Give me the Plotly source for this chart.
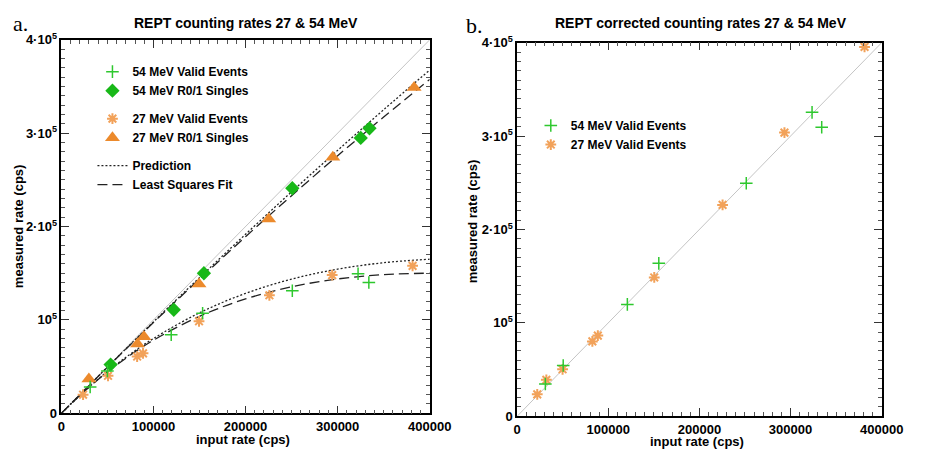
import plotly.graph_objects as go

# ---- data ----
# panel a: measured rates
val54_x = [31300, 50000, 119300, 153400, 250800, 322200, 333900]
val54_y = [28200, 45300, 84100, 107100, 131200, 149400, 140100]

sing54_x = [53500, 122100, 154800, 250800, 325100, 334600]
sing54_y = [52200, 110900, 150000, 241000, 294900, 305200]

val27_x = [23600, 50700, 82300, 88700, 149500, 225900, 294100, 381400]
val27_y = [19900, 40200, 60800, 64200, 98500, 126400, 148000, 157900]

sing27_x = [29900, 82700, 89700, 149500, 225200, 294800, 383100]
sing27_y = [36700, 74200, 82100, 138400, 208100, 274300, 348800]

# model curves (read at fixed input rates)
curve_hi_x = [0, 50000, 100000, 150000, 200000, 250000, 300000, 350000, 400000]
pred_hi_y = [0, 49500, 97900, 145300, 191700, 237200, 281600, 325100, 367600]
lsq_hi_y = [0, 49300, 97200, 143800, 189100, 233100, 275800, 317300, 357600]

curve_lo_x = [0, 25000, 50000, 75000, 100000, 150000, 200000, 250000, 300000, 350000, 400000]
pred_lo_y = [0, 23600, 44800, 63500, 80100, 107600, 128400, 143700, 154400, 161300, 165000]
lsq_lo_y = [0, 23500, 44200, 62400, 78300, 103900, 122500, 135500, 143900, 148500, 150100]

diag = [0, 400000]

# panel b: corrected rates
corr54_x = [30900, 50500, 120900, 155400, 251400, 323600, 334200]
corr54_y = [34400, 54300, 119700, 163700, 249400, 325400, 309500]

corr27_x = [22000, 32000, 49800, 82500, 88500, 150400, 225400, 293300, 381200]
corr27_y = [23400, 38900, 50200, 80100, 86300, 148600, 226300, 303700, 395500]

tickvals = [0, 100000, 200000, 300000, 400000]
x_ticktext = ["0", "100000", "200000", "300000", "400000"]
y_ticktext = ["0", "10<sup>5</sup>", "2·10<sup>5</sup>", "3·10<sup>5</sup>", "4·10<sup>5</sup>"]

GREEN = "#2ec82e"
GREEN_D = "#18b818"
ORANGE = "#ec8a2c"
ORANGE_L = "#f2a25a"
W, H = 927, 455

fig = go.Figure()

# reference diagonal and curves, panel a
fig.add_trace(go.Scatter(x=diag, y=diag, mode="lines", line=dict(color="#c4c4c4", width=1),
                         showlegend=False, hoverinfo="skip", xaxis="x", yaxis="y"))
for xs, ys, name, dash, show in [
    (curve_hi_x, pred_hi_y, "Prediction", "2px,2px", True),
    (curve_lo_x, pred_lo_y, "Prediction", "2px,2px", False),
    (curve_hi_x, lsq_hi_y, "Least Squares Fit", "10px,5px", True),
    (curve_lo_x, lsq_lo_y, "Least Squares Fit", "10px,5px", False),
]:
    fig.add_trace(go.Scatter(
        x=xs, y=ys, mode="lines", name=name, line=dict(color="#222", width=1.3, dash=dash, shape="spline"),
        showlegend=show, legendgroup="fit", legendrank=5 if name == "Prediction" else 6,
        legend="legend", xaxis="x", yaxis="y"))

fig.add_trace(go.Scatter(x=sing27_x, y=sing27_y, mode="markers", name="27 MeV R0/1 Singles",
                         marker=dict(symbol="triangle-up", size=13, color=ORANGE),
                         legendgroup="g27", legendrank=4, xaxis="x", yaxis="y"))
fig.add_trace(go.Scatter(x=val27_x, y=val27_y, mode="markers", name="27 MeV Valid Events",
                         marker=dict(symbol="asterisk-open", size=9, color=ORANGE_L, line=dict(width=2)),
                         legendgroup="g27", legendrank=3, xaxis="x", yaxis="y"))
fig.add_trace(go.Scatter(x=sing54_x, y=sing54_y, mode="markers", name="54 MeV R0/1 Singles",
                         marker=dict(symbol="diamond", size=11, color=GREEN_D),
                         legendgroup="g54", legendrank=2, xaxis="x", yaxis="y"))
fig.add_trace(go.Scatter(x=val54_x, y=val54_y, mode="markers", name="54 MeV Valid Events",
                         marker=dict(symbol="cross-thin-open", size=9, color=GREEN, line=dict(width=1.5)),
                         legendgroup="g54", legendrank=1, xaxis="x", yaxis="y"))

# panel b
fig.add_trace(go.Scatter(x=diag, y=diag, mode="lines", line=dict(color="#c4c4c4", width=1),
                         showlegend=False, hoverinfo="skip", xaxis="x2", yaxis="y2"))
fig.add_trace(go.Scatter(x=corr27_x, y=corr27_y, mode="markers", name="27 MeV Valid Events",
                         marker=dict(symbol="asterisk-open", size=9, color=ORANGE_L, line=dict(width=2)),
                         legend="legend2", legendrank=2, xaxis="x2", yaxis="y2"))
fig.add_trace(go.Scatter(x=corr54_x, y=corr54_y, mode="markers", name="54 MeV Valid Events",
                         marker=dict(symbol="cross-thin-open", size=9, color=GREEN, line=dict(width=1.5)),
                         legend="legend2", legendrank=1, xaxis="x2", yaxis="y2"))

tickfont = dict(family="Liberation Sans, Arial", size=13, color="black", weight="bold")
common = dict(range=[0, 400000], showline=True, linecolor="black", linewidth=1.5, mirror="allticks",
              ticks="inside", ticklen=8, tickcolor="#333", tickwidth=1, showgrid=False, zeroline=False,
              tickfont=tickfont, tickmode="array", tickvals=tickvals,
              minor=dict(dtick=10000, tick0=0, ticks="inside", ticklen=4, tickcolor="#555", showgrid=False))
xcommon = dict(common, ticktext=x_ticktext)
ycommon = dict(common, ticktext=y_ticktext)


def px(x, y):
    return x / W, 1 - y / H


def label(text, x, y, size=13, angle=0, family="Liberation Sans, Arial", bold=True):
    xp, yp = px(x, y)
    return dict(text=f"<b>{text}</b>" if bold else text, x=xp, y=yp, xref="paper", yref="paper",
                showarrow=False, textangle=angle, xanchor="center", yanchor="middle",
                font=dict(family=family, size=size, color="black"))


legfont = dict(family="Liberation Sans, Arial", size=12, color="black", weight="bold")
fig.update_layout(
    width=W, height=H,
    margin=dict(l=0, r=0, t=0, b=0),
    paper_bgcolor="white", plot_bgcolor="white",
    xaxis=dict(xcommon, domain=[59 / W, 438 / W], anchor="y"),
    yaxis=dict(ycommon, domain=[35 / H, 423 / H], anchor="x"),
    xaxis2=dict(xcommon, domain=[528 / W, 903 / W], anchor="y2"),
    yaxis2=dict(ycommon, domain=[32 / H, 420 / H], anchor="x2"),
    legend=dict(x=91 / W, y=1 - 50 / H, xanchor="left", yanchor="top", bgcolor="rgba(0,0,0,0)",
                traceorder="grouped", tracegroupgap=9, font=legfont, itemwidth=30),
    legend2=dict(x=542 / W, y=1 - 106 / H, xanchor="left", yanchor="top", bgcolor="rgba(0,0,0,0)",
                 font=legfont, itemwidth=30),
    annotations=[
        label("a.", 17, 15, size=22, family="Liberation Serif, Times New Roman", bold=False),
        label("REPT counting rates 27 &amp; 54 MeV", 248.5, 15, size=14),
        label("b.", 484, 17, size=22, family="Liberation Serif, Times New Roman", bold=False),
        label("REPT corrected counting rates 27 &amp; 54 MeV", 717, 15, size=14),
        label("measured rate (cps)", 15, 226, angle=-90),
        label("input rate (cps)", 246, 447),
        label("measured rate (cps)", 482, 220, angle=-90),
        label("input rate (cps)", 713, 449),
    ],
)

fig.write_html("out.html", config={"displayModeBar": False},
               post_script="document.body.style.margin='0';document.body.style.overflow='hidden';")
